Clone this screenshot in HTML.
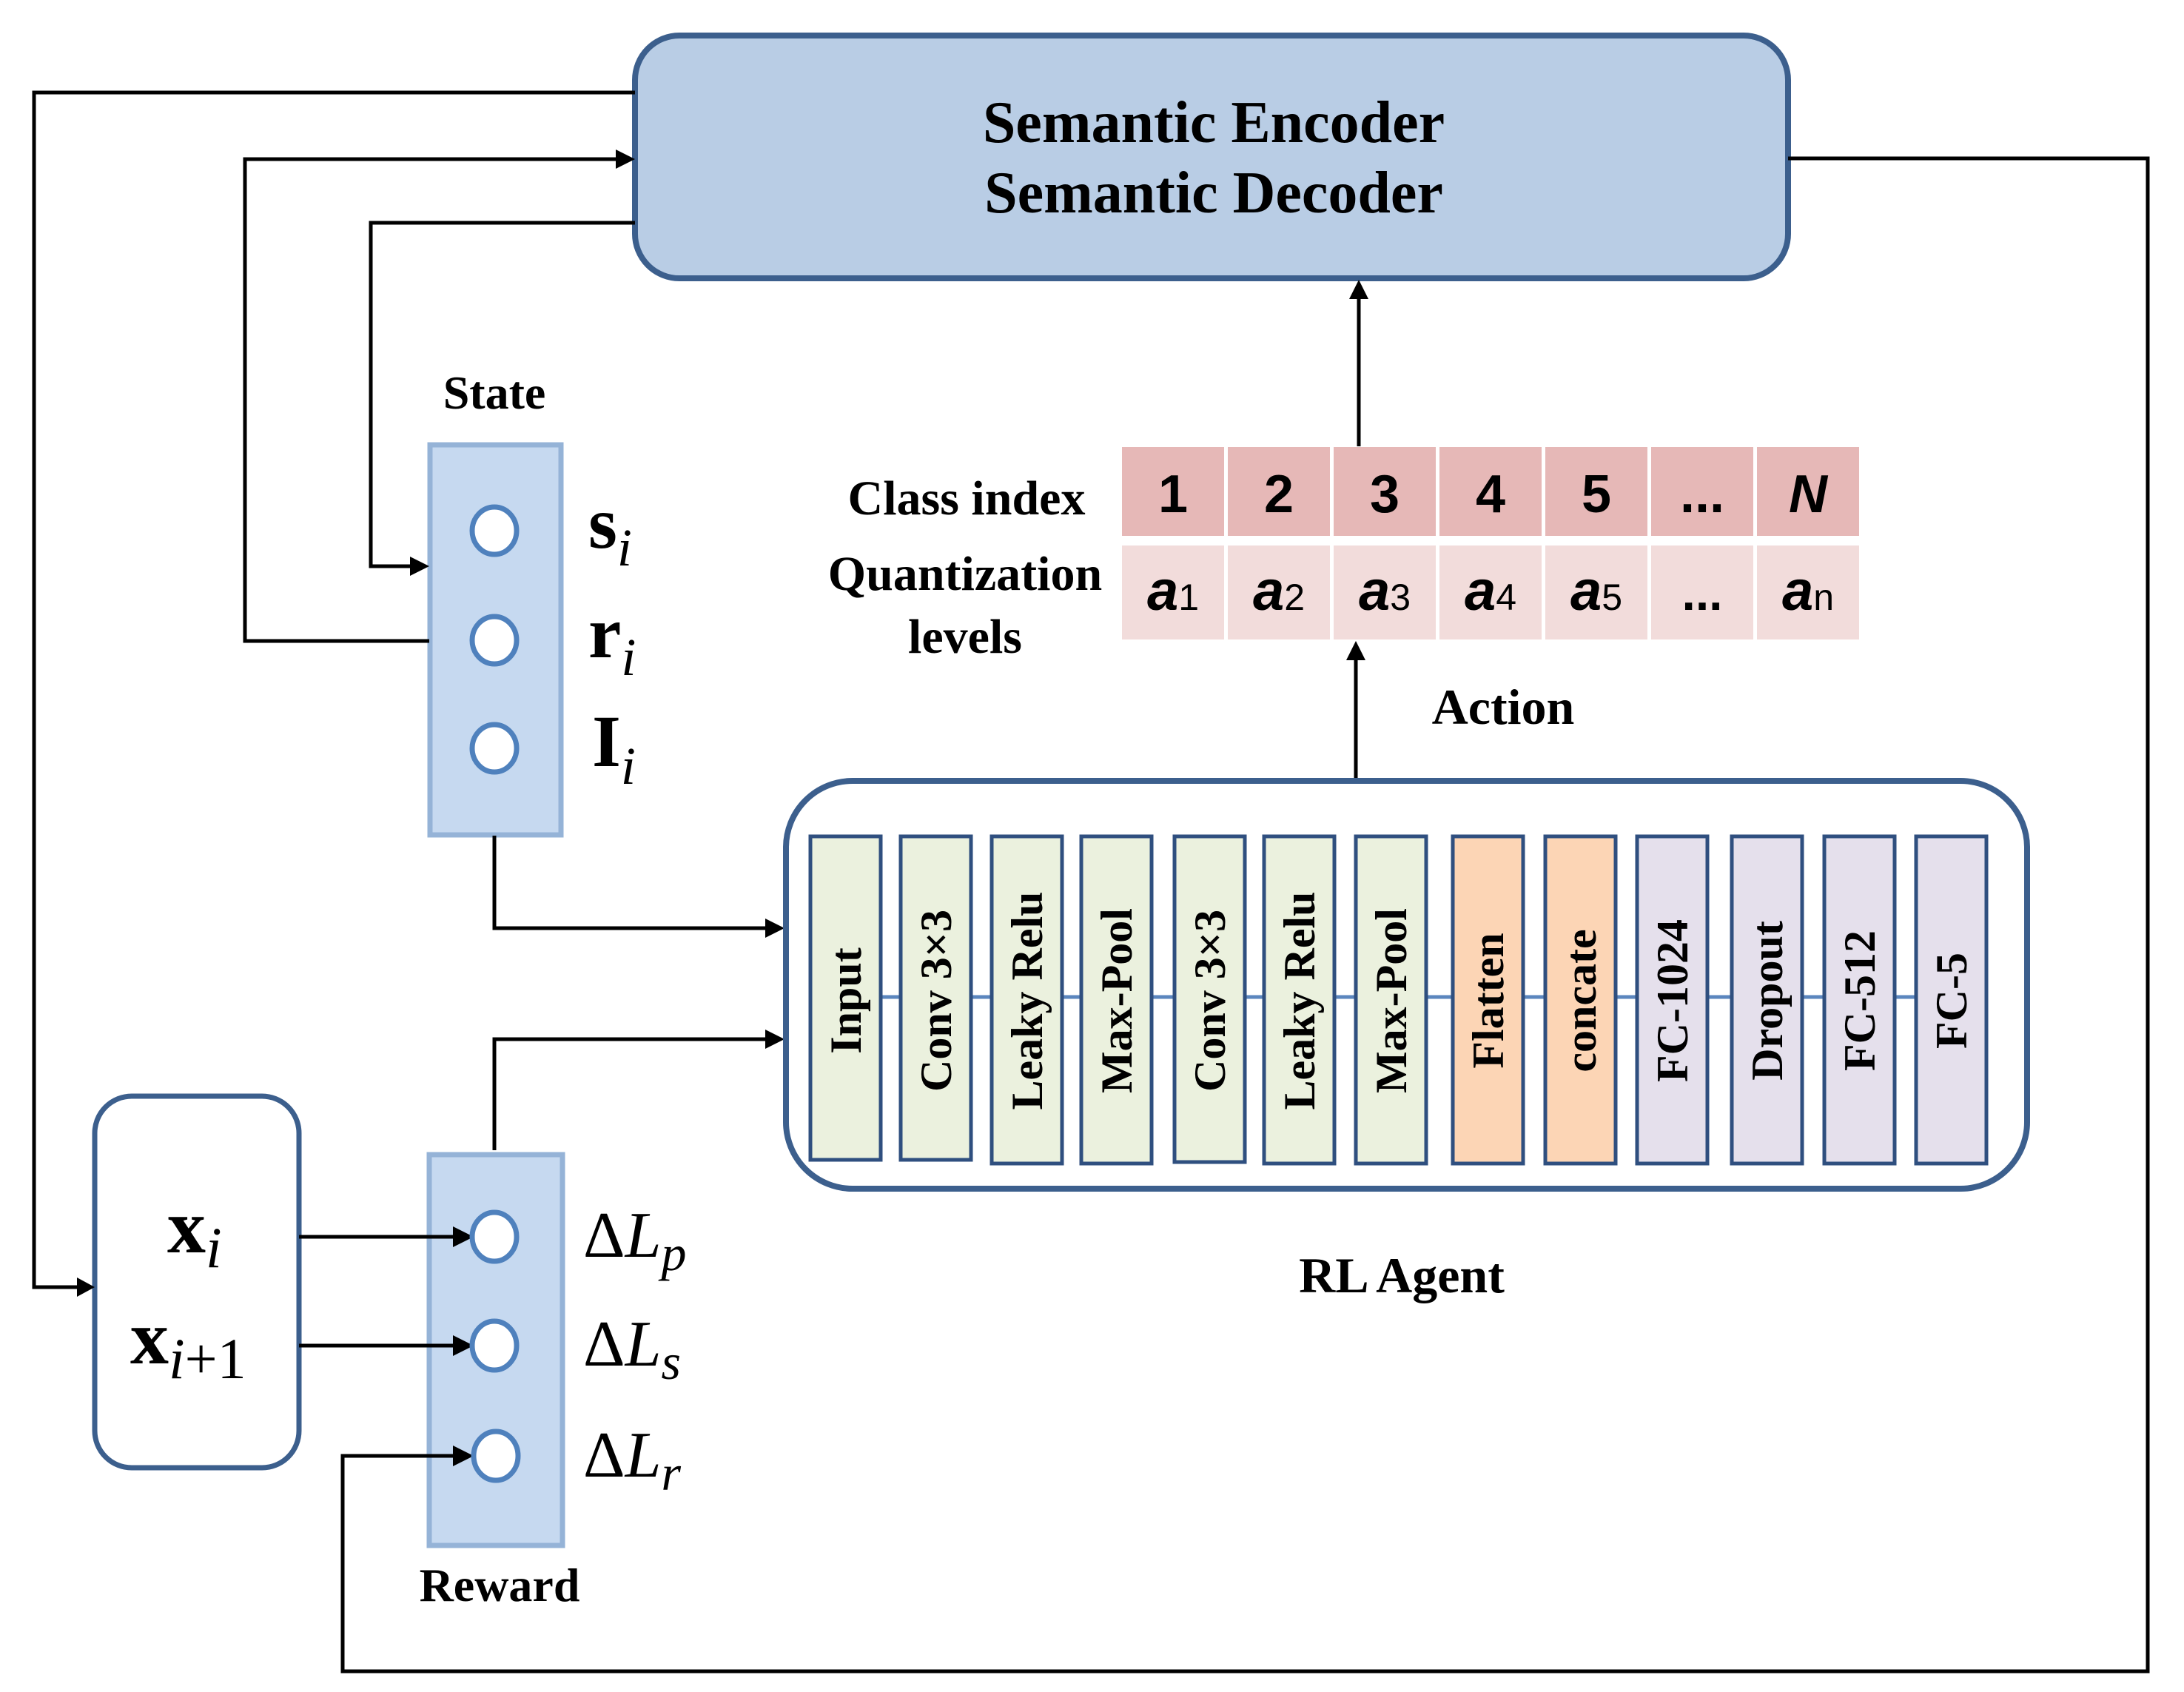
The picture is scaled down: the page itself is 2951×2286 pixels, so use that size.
<!DOCTYPE html>
<html><head><meta charset="utf-8"><style>
html,body{margin:0;padding:0;background:#fff;}
svg{display:block;}
</style></head><body>
<svg width="2951" height="2286" viewBox="0 0 2951 2286" xmlns="http://www.w3.org/2000/svg">
<style>
.ln{fill:none;stroke:#000;stroke-width:5;}
.sf{font-family:"Liberation Serif",serif;font-weight:bold;fill:#000;}
.ss{font-family:"Liberation Sans",sans-serif;font-weight:bold;fill:#000;}
.lay{font-family:"Liberation Serif",serif;font-weight:bold;font-size:60px;fill:#000;}
.ci{fill:#fff;stroke:#4f81bd;stroke-width:7;}
</style>

<rect x="858" y="48" width="1558" height="328" rx="60" fill="#b9cde5" stroke="#3c5f8d" stroke-width="8"/>
<text class="sf" x="1640" y="192" font-size="80" text-anchor="middle">Semantic Encoder</text>
<text class="sf" x="1640" y="287" font-size="80" text-anchor="middle">Semantic Decoder</text>

<rect x="581" y="601" width="177" height="527" fill="#c6d9f0" stroke="#95b3d7" stroke-width="7"/>
<rect x="580" y="1560" width="180" height="528" fill="#c6d9f0" stroke="#95b3d7" stroke-width="7"/>
<rect x="128" y="1481" width="276" height="502" rx="50" fill="#fff" stroke="#3c5f8d" stroke-width="7"/>

<polyline class="ln" points="858,125 46,125 46,1739 110,1739"/>
<polygon points="128,1739 104,1726 104,1752"/>
<polyline class="ln" points="580,866 331,866 331,215 836,215"/>
<polygon points="858,215 832,202 832,228"/>
<polyline class="ln" points="858,301 501,301 501,765 558,765"/>
<polygon points="580,765 554,752 554,778"/>
<polyline class="ln" points="2416,214 2902,214 2902,2258 463,2258 463,1967 616,1967"/>
<polygon points="640,1967 612,1953 612,1981"/>
<line class="ln" x1="1836" y1="603" x2="1836" y2="400"/>
<polygon points="1836,378 1823,404 1849,404"/>
<line class="ln" x1="1832" y1="1053" x2="1832" y2="890"/>
<polygon points="1832,866 1819,892 1845,892"/>
<polyline class="ln" points="668,1129 668,1254 1038,1254"/>
<polygon points="1060,1254 1034,1241 1034,1267"/>
<polyline class="ln" points="668,1554 668,1404 1038,1404"/>
<polygon points="1060,1404 1034,1391 1034,1417"/>
<line class="ln" x1="404" y1="1671" x2="616" y2="1671"/>
<line class="ln" x1="404" y1="1818" x2="616" y2="1818"/>
<polygon points="640,1671 612,1657 612,1685"/>
<polygon points="640,1818 612,1804 612,1832"/>

<text class="sf" x="668" y="552" font-size="64" text-anchor="middle">State</text>
<ellipse class="ci" cx="668" cy="717" rx="30" ry="32"/>
<ellipse class="ci" cx="668" cy="865" rx="30" ry="32"/>
<ellipse class="ci" cx="668" cy="1011" rx="30" ry="32"/>
<text x="795" y="740" font-family="Liberation Serif,serif" font-size="100" font-weight="bold">s<tspan font-style="italic" font-weight="normal" font-size="72" dy="24">i</tspan></text>
<text x="795" y="888" font-family="Liberation Serif,serif" font-size="100" font-weight="bold">r<tspan font-style="italic" font-weight="normal" font-size="72" dy="24">i</tspan></text>
<text x="800" y="1035" font-family="Liberation Serif,serif" font-size="100" font-weight="bold">I<tspan font-style="italic" font-weight="normal" font-size="72" dy="24">i</tspan></text>

<ellipse class="ci" cx="668" cy="1671" rx="30" ry="33"/>
<ellipse class="ci" cx="668" cy="1818" rx="30" ry="33"/>
<ellipse class="ci" cx="670" cy="1967" rx="30" ry="33"/>
<text class="sf" x="675" y="2163" font-size="64" text-anchor="middle">Reward</text>
<text x="788" y="1698" font-family="Liberation Serif,serif" font-size="88">Δ<tspan font-style="italic">L</tspan><tspan font-style="italic" font-size="68" dy="18">p</tspan></text>
<text x="788" y="1845" font-family="Liberation Serif,serif" font-size="88">Δ<tspan font-style="italic">L</tspan><tspan font-style="italic" font-size="68" dy="18">s</tspan></text>
<text x="788" y="1995" font-family="Liberation Serif,serif" font-size="88">Δ<tspan font-style="italic">L</tspan><tspan font-style="italic" font-size="68" dy="18">r</tspan></text>

<text x="226" y="1692" font-family="Liberation Serif,serif" font-size="104" font-weight="bold">x<tspan font-style="italic" font-weight="normal" font-size="78" dy="20">i</tspan></text>
<text x="176" y="1842" font-family="Liberation Serif,serif" font-size="104" font-weight="bold">x<tspan font-style="italic" font-weight="normal" font-size="78" dy="20">i</tspan><tspan font-weight="normal" font-size="78">+1</tspan></text>

<text class="sf" x="1306" y="695" font-size="66" text-anchor="middle">Class index</text>
<text class="sf" x="1304" y="797" font-size="66" text-anchor="middle">Quantization</text>
<text class="sf" x="1304" y="882" font-size="66" text-anchor="middle">levels</text>
<g>
<rect x="1516" y="604" width="138" height="120" fill="#e6b8b7"/>
<rect x="1659" y="604" width="138" height="120" fill="#e6b8b7"/>
<rect x="1802" y="604" width="138" height="120" fill="#e6b8b7"/>
<rect x="1945" y="604" width="138" height="120" fill="#e6b8b7"/>
<rect x="2088" y="604" width="138" height="120" fill="#e6b8b7"/>
<rect x="2231" y="604" width="138" height="120" fill="#e6b8b7"/>
<rect x="2374" y="604" width="138" height="120" fill="#e6b8b7"/>
<rect x="1516" y="737" width="138" height="127" fill="#f2dcdb"/>
<rect x="1659" y="737" width="138" height="127" fill="#f2dcdb"/>
<rect x="1802" y="737" width="138" height="127" fill="#f2dcdb"/>
<rect x="1945" y="737" width="138" height="127" fill="#f2dcdb"/>
<rect x="2088" y="737" width="138" height="127" fill="#f2dcdb"/>
<rect x="2231" y="737" width="138" height="127" fill="#f2dcdb"/>
<rect x="2374" y="737" width="138" height="127" fill="#f2dcdb"/>
</g>
<g class="ss" font-size="72" text-anchor="middle">
<text x="1585" y="692">1</text><text x="1728" y="692">2</text><text x="1871" y="692">3</text><text x="2014" y="692">4</text><text x="2157" y="692">5</text><text x="2300" y="692">...</text><text x="2443" y="692" font-style="italic">N</text>
</g>
<g class="ss" font-size="76" font-style="italic" text-anchor="middle">
<text x="1585" y="824">a<tspan font-style="normal" font-weight="normal" font-size="50">1</tspan></text>
<text x="1728" y="824">a<tspan font-style="normal" font-weight="normal" font-size="50">2</tspan></text>
<text x="1871" y="824">a<tspan font-style="normal" font-weight="normal" font-size="50">3</tspan></text>
<text x="2014" y="824">a<tspan font-style="normal" font-weight="normal" font-size="50">4</tspan></text>
<text x="2157" y="824">a<tspan font-style="normal" font-weight="normal" font-size="50">5</tspan></text>
<text x="2300" y="824" font-style="normal" font-size="66">...</text>
<text x="2443" y="824">a<tspan font-style="normal" font-weight="normal" font-size="50">n</tspan></text>
</g>
<text class="sf" x="2031" y="978" font-size="68" text-anchor="middle">Action</text>

<rect x="1062" y="1055" width="1677" height="551" rx="90" fill="#fff" stroke="#3c5f8d" stroke-width="8"/>
<line x1="1093" y1="1347" x2="2684" y2="1347" stroke="#5b86be" stroke-width="5"/>
<g stroke="#2f4f7f" stroke-width="5">
<rect x="1095" y="1130" width="95" height="437" fill="#ebf1de"/>
<rect x="1217" y="1130" width="95" height="437" fill="#ebf1de"/>
<rect x="1340" y="1130" width="95" height="442" fill="#ebf1de"/>
<rect x="1461" y="1130" width="95" height="442" fill="#ebf1de"/>
<rect x="1587" y="1130" width="95" height="440" fill="#ebf1de"/>
<rect x="1708" y="1130" width="95" height="442" fill="#ebf1de"/>
<rect x="1832" y="1130" width="95" height="442" fill="#ebf1de"/>
<rect x="1963" y="1130" width="95" height="442" fill="#fcd5b5"/>
<rect x="2088" y="1130" width="95" height="442" fill="#fcd5b5"/>
<rect x="2212" y="1130" width="95" height="442" fill="#e5e0ec"/>
<rect x="2340" y="1130" width="95" height="442" fill="#e5e0ec"/>
<rect x="2465" y="1130" width="95" height="442" fill="#e5e0ec"/>
<rect x="2589" y="1130" width="95" height="442" fill="#e5e0ec"/>
</g>
<g class="lay" text-anchor="middle">
<text transform="translate(1163,1352) rotate(-90)">Input</text>
<text transform="translate(1285,1352) rotate(-90)">Conv 3×3</text>
<text transform="translate(1408,1352) rotate(-90)">Leaky Relu</text>
<text transform="translate(1529,1352) rotate(-90)">Max-Pool</text>
<text transform="translate(1655,1352) rotate(-90)">Conv 3×3</text>
<text transform="translate(1776,1352) rotate(-90)">Leaky Relu</text>
<text transform="translate(1900,1352) rotate(-90)">Max-Pool</text>
<text transform="translate(2031,1352) rotate(-90)">Flatten</text>
<text transform="translate(2156,1352) rotate(-90)">concate</text>
<text transform="translate(2280,1352) rotate(-90)">FC-1024</text>
<text transform="translate(2408,1352) rotate(-90)">Dropout</text>
<text transform="translate(2533,1352) rotate(-90)">FC-512</text>
<text transform="translate(2657,1352) rotate(-90)">FC-5</text>
</g>
<text class="sf" x="1894" y="1746" font-size="68" text-anchor="middle">RL Agent</text>
</svg>
</body></html>
